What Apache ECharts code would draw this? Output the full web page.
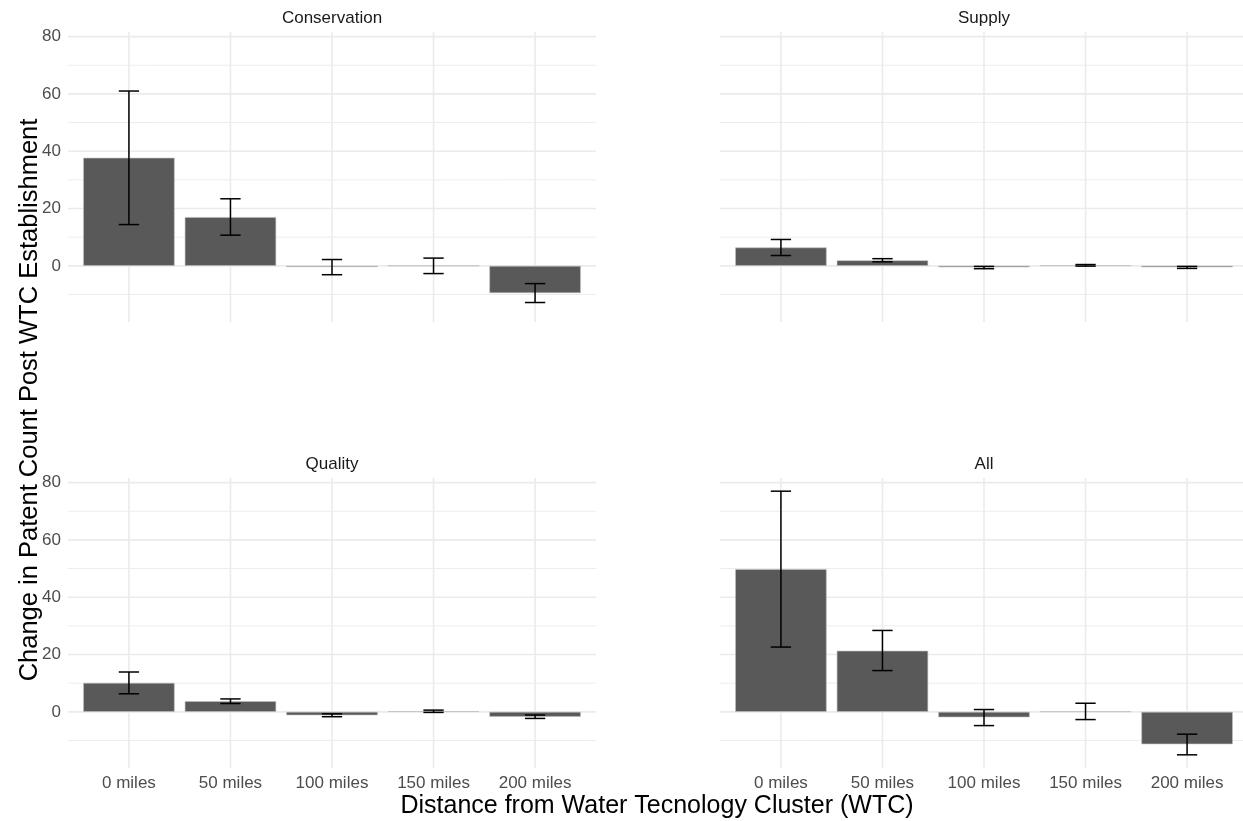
<!DOCTYPE html>
<html>
<head>
<meta charset="utf-8">
<script src="https://cdn.jsdelivr.net/npm/echarts@6/dist/echarts.min.js"></script>
<style>html,body{margin:0;padding:0;background:#fff;}#c{width:1243px;height:821px;}</style>
</head>
<body>
<div id="c"></div>
<script>
// ---- data ----
const categories = ['0 miles', '50 miles', '100 miles', '150 miles', '200 miles'];
const panelNames = ['Conservation', 'Supply', 'Quality', 'All'];

const conservationMean = [37.7, 17.0, -0.4, 0.05, -9.5];
const conservationLow  = [14.4, 10.7, -3.1, -2.7, -12.8];
const conservationHigh = [61.0, 23.4, 2.2, 2.7, -6.2];

const supplyMean = [6.4, 1.9, -0.5, 0.15, -0.5];
const supplyLow  = [3.6, 1.4, -1.0, -0.1, -0.9];
const supplyHigh = [9.2, 2.5, -0.2, 0.45, -0.2];

const qualityMean = [10.1, 3.7, -1.2, 0.2, -1.7];
const qualityLow  = [6.3, 2.9, -1.7, -0.2, -2.3];
const qualityHigh = [13.9, 4.5, -0.7, 0.6, -1.1];

const allMean = [49.8, 21.3, -1.9, 0.15, -11.3];
const allLow  = [22.6, 14.4, -4.8, -2.7, -15.0];
const allHigh = [77.0, 28.4, 0.8, 3.0, -7.8];

const yMajorTicks = [0, 20, 40, 60, 80];
const yMinorTicks = [-10, 10, 30, 50, 70];
const yMin = -19.6, yMax = 81.6;

const xTitle = 'Distance from Water Tecnology Cluster (WTC)';
const yTitle = 'Change in Patent Count Post WTC Establishment';

// ---- build ----
const means = [conservationMean, supplyMean, qualityMean, allMean];
const lows = [conservationLow, supplyLow, qualityLow, allLow];
const highs = [conservationHigh, supplyHigh, qualityHigh, allHigh];

const PW = 528, PH = 290;           // full panel size (ggplot panel)
const BAND = PW / 5.2;              // category band incl. 0.6 expansion each side
const INSET = 0.1 * BAND;
const lefts = [68, 720, 68, 720];
const tops = [32, 32, 478, 478];
const FONT = '"Liberation Sans", Arial, sans-serif';

const grids = [], xAxes = [], yAxes = [], series = [], graphics = [];

for (let p = 0; p < 4; p++) {
  grids.push({left: lefts[p] + INSET, top: tops[p], width: PW - 2 * INSET, height: PH, containLabel: false});
  const bottomRow = p >= 2, leftCol = (p % 2) === 0;
  xAxes.push({
    type: 'category', gridIndex: p, data: categories,
    boundaryGap: true,
    axisLine: {show: false}, axisTick: {show: false}, splitLine: {show: false},
    axisLabel: {show: bottomRow, color: '#4D4D4D', fontSize: 17, fontFamily: FONT, margin: 7, interval: 0}
  });
  yAxes.push({
    type: 'value', gridIndex: p, min: yMin, max: yMax,
    axisLine: {show: false}, axisTick: {show: false, customValues: yMajorTicks},
    splitLine: {show: false},
    axisLabel: {show: leftCol, customValues: yMajorTicks, color: '#4D4D4D', fontSize: 17, fontFamily: FONT, margin: 7 + INSET}
  });

  // horizontal gridlines (span the full expanded panel)
  const hData = yMinorTicks.map(v => [0, v, 0]).concat(yMajorTicks.map(v => [0, v, 1]));
  series.push({
    type: 'custom', xAxisIndex: p, yAxisIndex: p, z: 0, silent: true, clip: false,
    encode: {x: 0, y: 1},
    data: hData,
    renderItem: function (params, api) {
      const cs = params.coordSys;
      const ext = api.size([1, 0])[0] * 0.1;
      const y = api.coord([0, api.value(1)])[1];
      const major = api.value(2) === 1;
      return {type: 'line', shape: {x1: cs.x - ext, y1: y, x2: cs.x + cs.width + ext, y2: y},
        style: {stroke: '#EBEBEB', lineWidth: major ? 1.6 : 0.9}};
    }
  });
  // vertical gridlines at category centres
  series.push({
    type: 'custom', xAxisIndex: p, yAxisIndex: p, z: 0, silent: true,
    encode: {x: 0, y: 1},
    data: categories.map((c, i) => [i, 0]),
    renderItem: function (params, api) {
      const cs = params.coordSys;
      const x = api.coord([api.value(0), 0])[0];
      return {type: 'line', shape: {x1: x, y1: cs.y, x2: x, y2: cs.y + cs.height},
        style: {stroke: '#EBEBEB', lineWidth: 1.6}};
    }
  });
  // bars
  series.push({
    type: 'bar', xAxisIndex: p, yAxisIndex: p, z: 2, silent: true,
    data: means[p], barCategoryGap: '10%',
    itemStyle: {color: '#595959', borderColor: '#BEBEBE', borderWidth: 0.6}
  });
  // error bars
  series.push({
    type: 'custom', xAxisIndex: p, yAxisIndex: p, z: 3, silent: true,
    encode: {x: 0, y: [1, 2]},
    data: categories.map((c, i) => [i, lows[p][i], highs[p][i]]),
    renderItem: function (params, api) {
      const i = api.value(0);
      const lo = api.coord([i, api.value(1)]);
      const hi = api.coord([i, api.value(2)]);
      const half = api.size([1, 0])[0] * 0.1;
      const st = {stroke: '#000', lineWidth: 1.5};
      return {type: 'group', children: [
        {type: 'line', shape: {x1: lo[0], y1: lo[1], x2: hi[0], y2: hi[1]}, style: st},
        {type: 'line', shape: {x1: lo[0] - half, y1: lo[1], x2: lo[0] + half, y2: lo[1]}, style: st},
        {type: 'line', shape: {x1: hi[0] - half, y1: hi[1], x2: hi[0] + half, y2: hi[1]}, style: st}
      ]};
    }
  });

  // strip title
  graphics.push({
    type: 'text', x: lefts[p] + PW / 2, y: tops[p] - 14,
    style: {text: panelNames[p], fill: '#1A1A1A', font: '17px ' + FONT, textAlign: 'center', textVerticalAlign: 'middle'}
  });
}

graphics.push({
  type: 'text', x: 657, y: 806,
  style: {text: xTitle, fill: '#000', font: '25px ' + FONT, textAlign: 'center', textVerticalAlign: 'middle'}
});
graphics.push({
  type: 'text', x: 30, y: 400, rotation: Math.PI / 2,
  style: {text: yTitle, fill: '#000', font: '25.5px ' + FONT, textAlign: 'center', textVerticalAlign: 'middle'}
});

const chart = echarts.init(document.getElementById('c'), null, {renderer: 'canvas'});
chart.setOption({
  backgroundColor: '#fff',
  animation: false,
  grid: grids, xAxis: xAxes, yAxis: yAxes, series: series,
  graphic: graphics
});
</script>
</body>
</html>
